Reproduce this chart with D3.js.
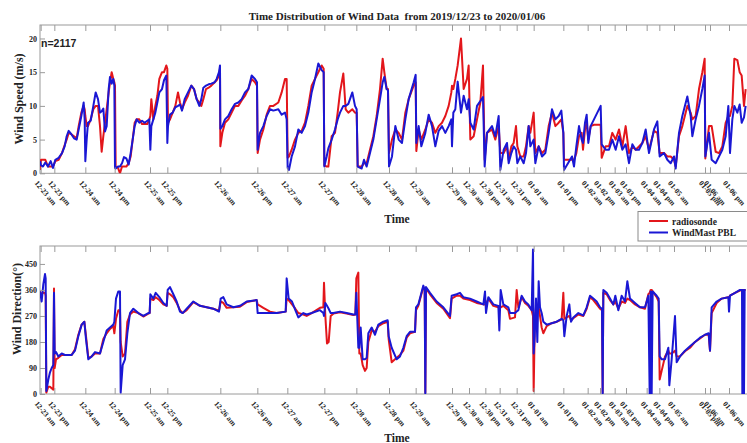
<!DOCTYPE html>
<html>
<head>
<meta charset="utf-8">
<script src="https://cdn.jsdelivr.net/npm/d3@7"></script>
<style>
  html, body { margin: 0; padding: 0; background: #fff; }
  svg { display: block; }
  .serif { font-family: "Liberation Serif", "Times New Roman", serif; font-weight: bold; fill: #222; }
</style>
</head>
<body>
<svg id="chart" width="747" height="443"></svg>
<script>
// Sample index along the record (n = 2117 soundings)
const speedIdx = [0,3,9,16,24,32,39,46,56,66,74,80,86,94,102,110,116,124,131,134,136,140,144,152,160,167,174,180,185,190,195,200,206,210,215,220,223,225,227,234,240,246,252,259,266,272,278,284,290,298,306,314,322,328,331,334,340,346,352,358,366,372,379,382,384,390,398,406,414,420,426,434,444,454,462,470,478,484,490,498,506,514,524,530,537,540,541,547,555,565,575,585,595,605,615,625,635,645,651,653,660,670,680,690,700,715,725,735,740,743,747,755,765,775,785,795,805,815,825,835,845,851,853,860,865,875,885,893,900,910,917,925,937,945,950,953,965,972,980,990,1000,1010,1020,1028,1033,1040,1044,1047,1056,1066,1076,1086,1096,1106,1121,1127,1129,1136,1144,1156,1166,1176,1186,1196,1206,1216,1226,1234,1236,1240,1246,1253,1263,1271,1281,1286,1291,1301,1311,1321,1329,1334,1341,1356,1366,1376,1381,1391,1401,1406,1414,1421,1428,1432,1441,1451,1458,1466,1471,1481,1486,1496,1506,1516,1526,1536,1546,1556,1564,1570,1572,1584,1596,1602,1609,1617,1625,1629,1635,1640,1645,1652,1662,1672,1682,1685,1697,1707,1717,1727,1737,1747,1757,1767,1777,1787,1797,1807,1817,1827,1842,1852,1859,1872,1882,1892,1902,1907,1917,1927,1942,1952,1957,1967,1977,1987,1994,1996,2007,2015,2027,2037,2047,2057,2065,2070,2077,2083,2092,2099,2105,2112,2117];

// Wind speed (m/s)
const speedRadiosonde = [0.5,2.0,2.0,2.0,1.0,1.0,1.0,1.8,2.0,3.0,4.2,5.0,6.0,5.8,5.5,5.2,7.0,9.0,10.0,9.5,8.5,7.0,7.0,8.0,9.5,10.0,10.0,7.0,3.2,5.5,7.5,9.5,12.0,13.5,15.0,14.0,13.5,13.0,1.0,0.8,0.0,1.0,1.0,1.0,1.5,2.5,5.0,7.5,8.0,8.0,7.3,7.3,7.3,8.0,8.5,11.0,8.0,10.0,11.5,14.0,15.0,15.0,16.0,15.5,7.5,8.0,9.0,10.0,12.0,10.5,9.5,10.5,11.5,13.0,12.5,11.0,10.5,10.0,11.0,12.5,12.7,13.0,13.5,13.8,14.5,15.5,4.0,6.0,7.5,8.0,9.0,10.0,10.0,10.8,11.5,12.5,14.0,13.5,13.0,3.0,5.0,6.5,8.7,10.0,10.0,10.5,12.0,14.0,14.0,2.3,2.5,3.5,5.0,6.0,6.3,7.5,10.0,13.0,14.0,15.0,16.0,15.5,1.2,1.0,1.0,5.5,6.0,9.0,12.0,14.8,9.5,9.0,9.5,9.0,9.0,1.0,1.0,1.5,1.5,3.5,5.5,8.5,12.5,17.0,15.0,12.5,12.5,3.0,5.0,6.5,6.0,5.0,9.0,11.0,13.0,13.5,3.3,6.5,5.0,6.5,8.0,7.5,6.0,7.0,7.5,8.5,10.0,12.0,13.0,12.5,14.0,16.0,20.0,12.5,14.0,16.0,5.0,5.5,8.0,10.5,16.0,2.0,6.0,6.5,5.0,7.0,3.0,3.0,4.0,2.0,4.0,4.5,7.0,4.0,2.5,2.5,4.0,7.0,6.0,9.0,3.0,4.0,3.0,3.5,7.0,9.0,7.0,7.5,8.0,6.0,2.0,2.0,2.0,2.0,3.0,5.5,6.0,3.5,6.5,7.5,5.0,7.0,7.2,7.2,7.2,2.3,4.0,4.0,6.0,5.0,6.5,4.0,7.0,3.0,4.0,3.5,4.0,4.5,5.5,3.5,6.3,6.0,3.0,3.0,2.5,2.5,2.0,1.0,5.5,7.0,10.0,9.0,8.0,8.5,12.5,15.0,17.0,2.2,7.0,7.0,3.2,3.0,4.0,7.5,8.5,8.5,10.0,17.0,16.8,15.0,14.5,10.0,12.5];
const speedWindMast = [1.8,1.2,1.0,1.6,1.0,1.8,0.8,2.0,2.3,3.0,4.0,5.5,6.3,5.8,5.2,5.0,6.5,8.5,10.5,8.0,1.8,5.0,7.5,7.8,10.0,12.0,11.0,9.0,9.2,9.6,6.2,7.0,12.5,14.3,13.3,14.0,13.0,0.8,0.7,1.0,1.0,1.5,2.4,2.2,1.3,3.0,5.0,7.0,8.0,7.5,7.8,7.5,7.8,8.0,3.5,7.0,8.0,9.0,10.5,12.0,12.5,13.8,14.5,4.5,7.0,8.7,9.0,9.8,10.0,10.2,9.3,11.0,12.0,13.0,12.5,11.0,10.0,11.0,12.7,13.0,13.2,13.3,13.5,14.0,15.0,16.0,6.6,7.0,8.0,8.5,9.5,10.3,10.5,11.0,12.0,12.5,14.5,14.0,13.5,3.5,6.0,7.0,8.5,9.5,9.3,9.5,8.7,9.0,8.0,0.8,0.5,2.5,4.0,6.5,6.0,7.0,9.0,12.0,14.0,16.3,15.3,15.0,1.0,2.5,3.7,5.0,6.5,8.0,9.0,10.0,10.0,10.3,12.0,10.0,9.5,1.0,0.7,2.0,1.0,3.0,5.0,8.0,11.0,13.5,14.3,12.5,12.3,1.0,2.5,7.0,5.0,4.5,8.0,11.0,13.5,14.6,4.5,7.0,4.0,6.0,8.7,7.0,4.0,6.3,7.0,6.0,7.0,8.0,4.0,9.0,9.5,13.6,9.0,11.5,9.5,11.0,7.5,6.5,10.0,10.7,11.3,1.0,6.0,7.0,5.5,8.5,0.5,3.5,4.5,1.5,3.0,4.0,3.5,1.5,2.5,1.5,3.0,7.0,4.0,5.0,1.5,4.0,2.5,3.0,6.0,9.5,8.0,8.5,9.3,6.0,0.5,1.5,2.5,1.0,4.0,7.0,5.0,4.5,7.5,8.7,4.5,7.0,8.0,9.0,10.0,4.3,3.5,3.5,5.0,3.5,5.5,3.5,4.3,1.5,4.3,3.5,3.5,4.5,6.5,3.0,6.5,7.7,2.5,3.0,2.0,1.5,2.5,0.7,6.0,8.5,11.4,8.5,5.5,8.0,10.0,12.5,14.5,2.5,6.0,2.0,1.5,2.5,3.5,5.5,10.0,3.0,8.0,10.0,9.0,10.2,7.5,8.3,10.0];

const dirIdx = [0,5,10,15,17,19,25,30,35,40,42,44,48,55,65,75,95,105,115,125,133,138,145,155,165,180,190,200,210,220,223,228,235,240,242,248,255,262,270,280,295,310,325,329,331,340,347,358,370,380,383,390,400,410,420,428,440,460,480,500,520,537,542,550,560,580,600,620,650,653,670,690,710,737,740,746,756,766,775,790,800,815,840,850,852,856,861,866,872,880,900,920,940,946,949,955,958,962,968,975,980,985,995,1005,1015,1030,1043,1046,1055,1070,1080,1090,1100,1110,1125,1128,1135,1150,1154,1156,1158,1170,1190,1210,1230,1235,1250,1260,1270,1290,1310,1330,1335,1338,1345,1360,1375,1378,1382,1390,1405,1410,1425,1430,1435,1445,1455,1465,1475,1479,1481,1484,1488,1492,1496,1500,1505,1510,1520,1535,1550,1565,1570,1573,1580,1588,1593,1600,1615,1630,1640,1650,1660,1670,1680,1686,1688,1690,1700,1710,1720,1726,1735,1745,1755,1762,1770,1785,1800,1815,1825,1829,1832,1835,1838,1850,1856,1859,1865,1875,1885,1888,1895,1905,1910,1920,1935,1950,1965,1980,1995,2006,2010,2015,2030,2045,2065,2067,2070,2085,2100,2106,2107,2109,2112,2114,2117];

// Wind direction (degrees)
const dirRadiosonde = [355,345,350,350,340,5,25,25,20,15,365,90,120,125,135,135,135,155,205,240,250,200,125,130,140,140,190,210,225,235,210,260,290,290,180,130,140,250,275,285,280,268,278,280,330,325,335,325,310,305,350,345,335,315,290,280,290,318,305,300,295,288,320,315,298,300,302,318,325,310,298,285,280,285,330,325,310,295,280,275,270,280,298,300,385,270,175,180,270,278,283,278,273,275,400,420,140,140,100,80,90,180,220,215,235,245,250,190,110,125,135,150,195,210,215,290,305,370,360,5,365,345,315,295,262,330,340,340,330,325,315,310,310,310,330,305,300,300,300,305,290,260,265,360,300,335,315,305,290,270,10,220,300,290,300,270,230,210,235,245,250,258,350,260,265,270,255,262,275,270,295,335,325,310,295,290,5,350,345,325,310,320,295,320,315,330,325,310,300,295,345,350,360,360,355,335,320,50,80,130,150,140,140,150,130,130,148,160,180,192,205,205,150,280,315,330,335,335,340,350,358,360,360,360,360,360,360];
const dirWindMast = [355,320,380,415,400,10,50,75,90,100,350,140,145,130,140,135,135,150,200,240,250,190,120,130,145,140,180,220,230,240,250,330,355,355,5,100,120,210,280,295,280,270,280,280,345,330,350,335,315,305,360,370,345,320,285,280,295,320,305,300,295,285,330,335,310,300,305,320,325,280,280,280,280,285,400,330,320,290,265,280,275,280,290,280,270,315,305,295,280,280,285,280,275,275,350,160,160,230,120,120,125,210,230,205,240,250,255,200,160,120,130,160,200,215,215,300,310,375,360,0,370,350,320,300,270,340,345,350,335,330,320,310,355,280,335,310,305,220,360,310,300,280,280,285,290,340,320,310,290,500,140,200,330,180,390,300,280,250,240,245,250,260,255,200,270,310,250,265,280,272,300,340,330,320,300,295,0,360,350,330,310,340,290,340,320,390,330,315,300,300,340,0,355,0,355,340,330,130,120,120,160,30,120,270,110,130,150,165,180,195,205,210,150,300,320,330,335,285,340,350,360,360,0,360,0,360,360];

// Day / half-day markers along the record
const tickIdx = [2,43,136,224,330,382,541,652,742,853,949,1047,1127,1236,1287,1336,1379,1430,1481,1570,1643,1680,1724,1758,1820,1858,1902,1995,2010,2067];
const tickLabels = ["12-23 am","12-23 pm","12-24 am","12-24 pm","12-25 am","12-25 pm","12-26 am","12-26 pm","12-27 am","12-27 pm","12-28 am","12-28 pm","12-29 am","12-29 pm","12-30 am","12-30 pm","12-31 am","12-31 pm","01-01 am","01-01 pm","01-02 am","01-02 pm","01-03 am","01-03 pm","01-04 am","01-04 pm","01-05 am","01-05 pm","01-06 am","01-06 pm"];

const speedTicks = [0,5,10,15,20];
const dirTicks = [0,90,180,270,360,450];

const seriesNames = ["radiosonde", "WindMast PBL"];
const seriesColors = ["#e3161b", "#1a17d4"];

const svg = d3.select("#chart");
const frameColor = "#9a9a9a";
const left = 40, right = 760;

const x = d3.scaleLinear().domain([0, 2130]).range([40, 750]);

const panels = [
  { top: 25, bottom: 173.3, domain: [0, 22], ticks: speedTicks, idx: speedIdx,
    series: [speedRadiosonde, speedWindMast], ylabel: "Wind Speed (m/s)", ylabelX: 22.5, ylabelY: 99, timeY: 223 },
  { top: 246, bottom: 394, domain: [0, 512], ticks: dirTicks, idx: dirIdx,
    series: [dirRadiosonde, dirWindMast], ylabel: "Wind Direction(°)", ylabelX: 20.5, ylabelY: 309, timeY: 442 }
];

panels.forEach((p, pi) => {
  const y = d3.scaleLinear().domain(p.domain).range([p.bottom, p.top]);
  const g = svg.append("g");

  // frame
  g.append("rect").attr("x", left).attr("y", p.top)
    .attr("width", right - left).attr("height", p.bottom - p.top)
    .attr("fill", "#fff").attr("stroke", frameColor).attr("stroke-width", 1);

  // series lines, clipped to the frame
  const clipId = "clip" + pi;
  svg.append("clipPath").attr("id", clipId).append("rect")
    .attr("x", left).attr("y", p.top).attr("width", right - left).attr("height", p.bottom - p.top);
  const line = d3.line().x((d, i) => x(p.idx[i])).y(d => y(d));
  p.series.forEach((vals, si) => {
    g.append("path").datum(vals)
      .attr("clip-path", `url(#${clipId})`)
      .attr("d", line)
      .attr("fill", "none")
      .attr("stroke", seriesColors[si])
      .attr("stroke-width", 2)
      .attr("stroke-linejoin", "round");
  });

  // bottom axis with rotated labels
  const xb = g.append("g").attr("transform", `translate(0,${p.bottom})`)
    .call(d3.axisBottom(x).tickValues(tickIdx).tickSize(-6).tickSizeOuter(0)
      .tickFormat((d, i) => tickLabels[i]));
  xb.select(".domain").remove();
  xb.selectAll("line").attr("stroke", frameColor);
  xb.selectAll("text")
    .attr("class", "serif")
    .attr("x", 0).attr("y", 0).attr("dy", 0)
    .attr("text-anchor", "start")
    .attr("transform", "translate(-7,10) rotate(50)")
    .style("font-size", "7.5px");

  // top ticks
  const xt = g.append("g").attr("transform", `translate(0,${p.top})`)
    .call(d3.axisTop(x).tickValues(tickIdx).tickSize(-6).tickSizeOuter(0).tickFormat(""));
  xt.select(".domain").remove();
  xt.selectAll("line").attr("stroke", frameColor);

  // left axis
  const ya = g.append("g").attr("transform", `translate(${left},0)`)
    .call(d3.axisLeft(y).tickValues(p.ticks).tickSize(-5).tickSizeOuter(0).tickPadding(3));
  ya.select(".domain").remove();
  ya.selectAll("line").attr("stroke", frameColor);
  ya.selectAll("text").attr("class", "serif").style("font-size", "8px");

  // axis titles
  svg.append("text").attr("class", "serif")
    .attr("transform", `translate(${p.ylabelX},${p.ylabelY}) rotate(-90)`)
    .attr("text-anchor", "middle").style("font-size", "12px")
    .text(p.ylabel);
  svg.append("text").attr("class", "serif")
    .attr("x", 397).attr("y", p.timeY)
    .attr("text-anchor", "middle").style("font-size", "11.5px")
    .text("Time");
});

// title
svg.append("text").attr("class", "serif")
  .attr("x", 397).attr("y", 20).attr("text-anchor", "middle")
  .style("font-size", "11px").attr("xml:space", "preserve")
  .text("Time Distribution of Wind Data  from 2019/12/23 to 2020/01/06");

// sample count
svg.append("text").attr("x", 41).attr("y", 47)
  .style("font-family", "'Liberation Sans', Arial, sans-serif")
  .style("font-weight", "bold").style("font-size", "10.5px").attr("fill", "#222")
  .text("n=2117");

// legend
const lg = svg.append("g").attr("transform", "translate(638,211.5)");
lg.append("rect").attr("width", 130).attr("height", 29.5)
  .attr("fill", "#fff").attr("stroke", "#8a8a8a").attr("stroke-width", 1);
seriesNames.forEach((name, i) => {
  const yy = 9.5 + i * 11.5;
  lg.append("line").attr("x1", 11).attr("x2", 30).attr("y1", yy).attr("y2", yy)
    .attr("stroke", seriesColors[i]).attr("stroke-width", 2);
  lg.append("text").attr("class", "serif").attr("x", 34).attr("y", yy + 3.5)
    .style("font-size", "9.5px").text(name);
});
</script>
</body>
</html>
